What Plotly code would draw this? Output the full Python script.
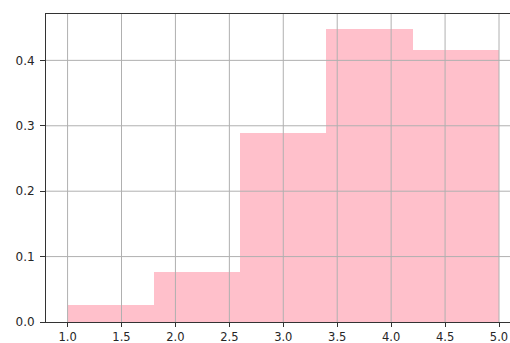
import plotly.graph_objects as go

# Histogram bins (density-normalised heights)
bin_edges = [1.0, 1.8, 2.6, 3.4, 4.2, 5.0]
densities = [0.0266, 0.0765, 0.2883, 0.4484, 0.4162]

x_ticks = [1.0, 1.5, 2.0, 2.5, 3.0, 3.5, 4.0, 4.5, 5.0]
x_tick_labels = ["1.0", "1.5", "2.0", "2.5", "3.0", "3.5", "4.0", "4.5", "5.0"]
y_ticks = [0.0, 0.1, 0.2, 0.3, 0.4]
y_tick_labels = ["0.0", "0.1", "0.2", "0.3", "0.4"]

centers = [(a + b) / 2 for a, b in zip(bin_edges[:-1], bin_edges[1:])]
widths = [b - a for a, b in zip(bin_edges[:-1], bin_edges[1:])]

fig = go.Figure(
    go.Bar(
        x=centers,
        y=densities,
        width=widths,
        marker=dict(color="pink", line=dict(width=0)),
        hoverinfo="skip",
    )
)

grid_color = "#b0b0b0"
shapes = []
# grid lines sit above the bars
for xv in x_ticks:
    shapes.append(dict(type="line", xref="x", yref="paper", x0=xv, x1=xv, y0=0, y1=1,
                       line=dict(color=grid_color, width=1), layer="above"))
for yv in y_ticks[1:]:
    shapes.append(dict(type="line", xref="paper", yref="y", x0=0, x1=1, y0=yv, y1=yv,
                       line=dict(color=grid_color, width=1), layer="above"))

font = dict(family="DejaVu Sans", size=12, color="#262626")

fig.update_layout(
    width=510,
    height=343,
    margin=dict(l=46, r=0, t=14, b=21, autoexpand=False),
    paper_bgcolor="white",
    plot_bgcolor="white",
    showlegend=False,
    bargap=0,
    shapes=shapes,
    font=font,
    xaxis=dict(
        range=[0.8, 5.102],
        tickmode="array",
        tickvals=x_ticks,
        ticktext=x_tick_labels,
        showgrid=False,
        zeroline=False,
        showline=True,
        linecolor="#333333",
        linewidth=1,
        mirror=True,
        ticks="outside",
        ticklen=4,
        tickcolor="#333333",
        tickwidth=1,
        tickfont=dict(family="DejaVu Sans", size=11.5, color="#262626"),
        ticklabelstandoff=0,
        automargin=False,
        layer="above traces",
    ),
    yaxis=dict(
        range=[0, 0.4709],
        tickmode="array",
        tickvals=y_ticks,
        ticktext=y_tick_labels,
        showgrid=False,
        zeroline=False,
        showline=True,
        linecolor="#333333",
        linewidth=1,
        mirror=False,
        ticks="outside",
        ticklen=5,
        tickcolor="#333333",
        tickwidth=1,
        tickfont=font,
        ticklabelstandoff=3,
        automargin=False,
        layer="above traces",
    ),
)

fig.write_html("out.html")
